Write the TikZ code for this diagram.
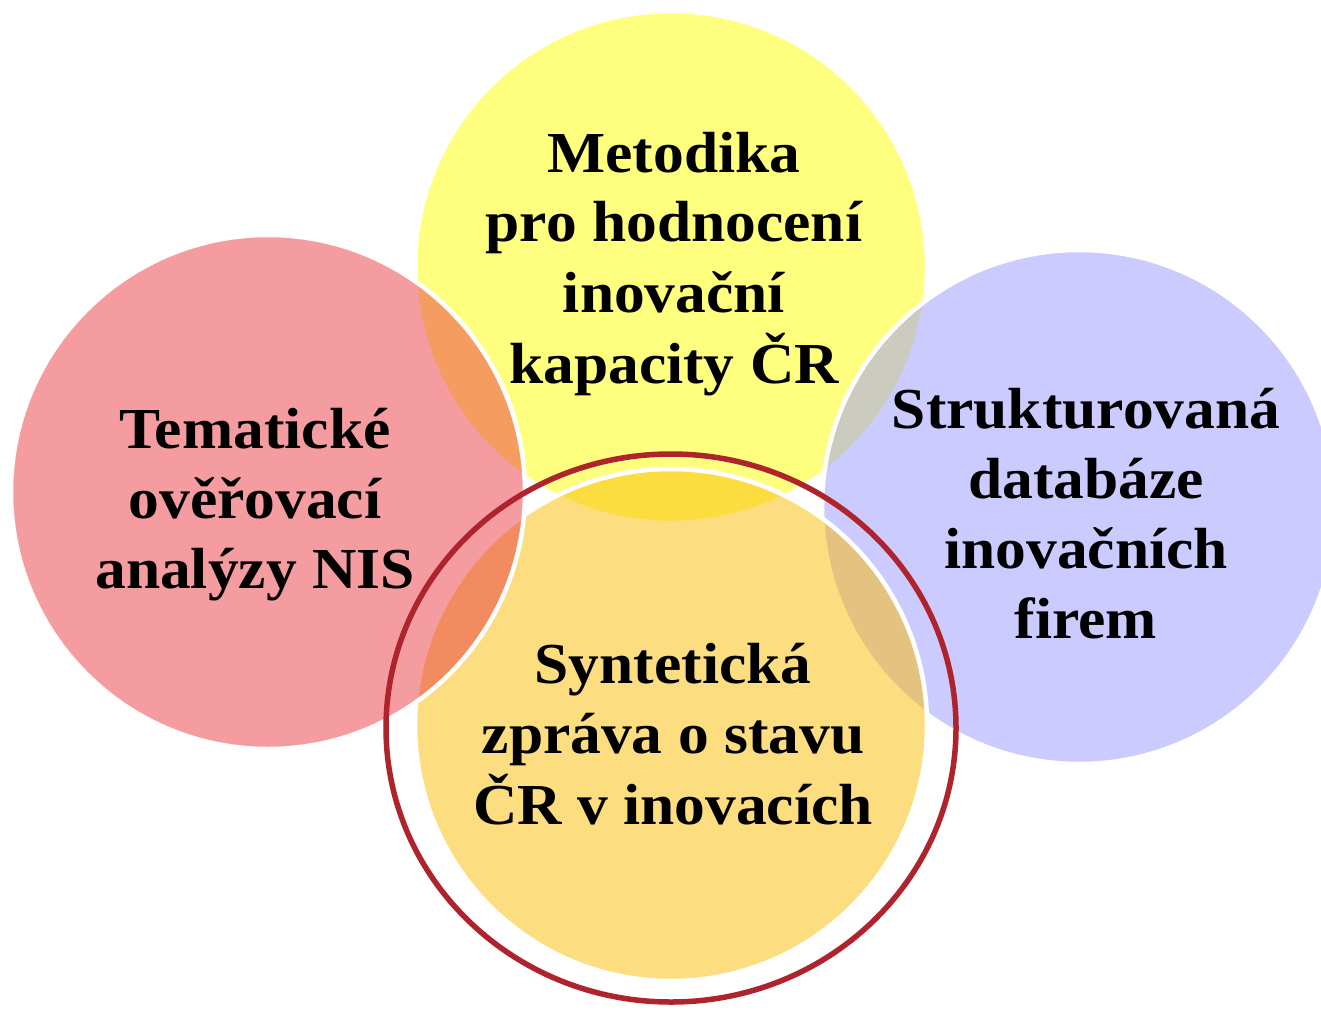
\documentclass[tikz,border=0pt]{standalone}
\usepackage{fontspec}
\usetikzlibrary{shapes.geometric}
\setmainfont{Liberation Serif}[FakeStretch=1.06]
\definecolor{cyel}{RGB}{255,255,0}
\definecolor{cblue}{RGB}{153,153,255}
\definecolor{corange}{RGB}{251,189,0}
\definecolor{cred}{RGB}{236,58,68}
\definecolor{cring}{RGB}{174,35,44}
\begin{document}
\begin{tikzpicture}[x=1pt,y=-1pt,
  venn/.style={circle, draw=white, line width=4.5pt, fill opacity=0.5, minimum size=#1, inner sep=0pt},
  ringstyle/.style={ellipse, draw=cring, line width=5.5pt, minimum width=570pt, minimum height=548pt, inner sep=0pt},
  lbl/.style={font=\fontsize{58}{70}\selectfont\bfseries, anchor=base, inner sep=0pt, text=black}]
\clip (0,0) rectangle (1321,1011);
\fill[white] (0,0) rectangle (1321,1011);
% circles, lowest first
\node[venn=512pt, fill=cyel] (ctop) at (671,267) {};
\node[venn=514pt, fill=cblue] (cright) at (1079,507) {};
\node[venn=512pt, fill=corange] (cbottom) at (671,725) {};
\node[venn=514pt, fill=cred] (cleft) at (268,492) {};
% outer ring around the bottom circle
\node[ringstyle] (ring) at (671,728) {};
% labels
\node[lbl] (ttop) at (674,172) {\begin{tabular}[t]{@{}c@{}}Metodika\\pro hodnocení\\inovační\\kapacity ČR\end{tabular}};
\node[lbl] (tleft) at (255,448) {\begin{tabular}[t]{@{}c@{}}Tematické\\ověřovací\\analýzy NIS\end{tabular}};
\node[lbl] (tright) at (1086,428) {\begin{tabular}[t]{@{}c@{}}Strukturovaná\\databáze\\inovačních\\firem\end{tabular}};
\node[lbl] (tbottom) at (673,683) {\begin{tabular}[t]{@{}c@{}}Syntetická\\zpráva o stavu\\ČR v inovacích\end{tabular}};
\end{tikzpicture}
\end{document}
